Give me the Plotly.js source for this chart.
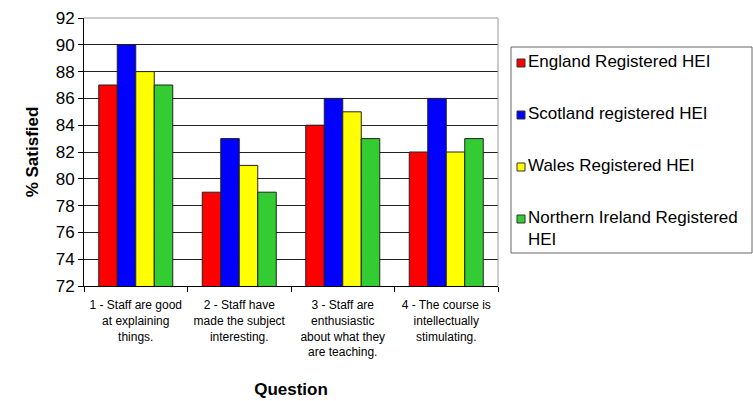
<!DOCTYPE html>
<html><head><meta charset="utf-8">
<script src="https://cdn.plot.ly/plotly-3.0.1.min.js"></script>
<style>html,body{margin:0;padding:0;background:#fff;}#chart{width:753px;height:401px;}</style>
</head><body><div id="chart"></div>
<script>
const questions = [
  "1 - Staff are good<br>at explaining<br>things.",
  "2 - Staff have<br>made the subject<br>interesting.",
  "3 - Staff are<br>enthusiastic<br>about what they<br>are teaching.",
  "4 - The course is<br>intellectually<br>stimulating."
];
const seriesNames = ["England Registered HEI", "Scotland registered HEI", "Wales Registered HEI", "Northern Ireland Registered<br>HEI"];
const england = [87, 79, 84, 82];
const scotland = [90, 83, 86, 86];
const wales = [88, 81, 85, 82];
const northernIreland = [87, 79, 83, 83];
const yTicks = [72, 74, 76, 78, 80, 82, 84, 86, 88, 90, 92];
const colors = ["#FF0000", "#0000FF", "#FFFF00", "#33CC33"];
const allValues = [england, scotland, wales, northernIreland];

const W = 753, H = 401, ML = 84, MR = 255, MT = 18, MB = 115;
const PW = W - ML - MR, PH = H - MT - MB;
const px = x => (x - ML) / PW;
const py = y => (H - MB - y) / PH;

const traces = allValues.map((vals, i) => ({
  type: "bar",
  x: questions,
  y: vals,
  name: seriesNames[i].replace("<br>", " "),
  marker: {color: colors[i], line: {color: "#222", width: 1}},
  hoverinfo: "y",
  showlegend: false
}));

// manual legend (Excel style)
const shapes = [
  {type: "line", xref: "paper", yref: "paper", x0: 1, x1: 1, y0: 0, y1: 1, line: {color: "#999", width: 1}},
  {type: "line", xref: "paper", yref: "paper", x0: 0, x1: 1, y0: 1, y1: 1, line: {color: "#999", width: 1}},
  {type: "rect", xref: "paper", yref: "paper", x0: px(511), x1: px(752), y0: py(47), y1: py(253),
   line: {color: "#666", width: 1}, fillcolor: "rgba(0,0,0,0)"}
];
const annotations = [];
seriesNames.forEach((nm, i) => {
  const cy = 63 + i * 52;
  shapes.push({type: "rect", xref: "paper", yref: "paper", x0: px(517), x1: px(525), y0: py(cy - 4), y1: py(cy + 4),
    line: {color: "#333", width: 1}, fillcolor: colors[i]});
  annotations.push({xref: "paper", yref: "paper", x: px(527), y: py(cy - 12), xanchor: "left", yanchor: "top",
    text: nm, showarrow: false, align: "left", font: {size: 17, color: "#000"}, borderpad: 0});
});

const layout = {
  width: W, height: H,
  margin: {l: ML, r: MR, t: MT, b: MB, autoexpand: false},
  paper_bgcolor: "#fff", plot_bgcolor: "#fff",
  font: {family: "Arial, Liberation Sans, sans-serif", color: "#000"},
  barmode: "group",
  bargap: 0.285,
  bargroupgap: 0,
  showlegend: false,
  xaxis: {
    type: "category",
    tickson: "boundaries",
    tickangle: 0,
    ticks: "outside", ticklen: 5, tickcolor: "#000",
    ticklabelstandoff: 8,
    showline: true, linecolor: "#000", linewidth: 1,
    tickfont: {size: 12, color: "#000"},
    title: {text: "Question", font: {size: 17, color: "#000", weight: "bold"}, standoff: 24}
  },
  yaxis: {
    range: [72, 92],
    tickvals: yTicks,
    ticks: "outside", ticklen: 5, tickcolor: "#000",
    showline: true, linecolor: "#000", linewidth: 1,
    showgrid: true, gridcolor: "#222", gridwidth: 1,
    zeroline: false,
    tickfont: {size: 17, color: "#000"},
    title: {text: "% Satisfied", font: {size: 17, color: "#000", weight: "bold"}, standoff: 12}
  },
  shapes: shapes,
  annotations: annotations
};
Plotly.newPlot("chart", traces, layout, {staticPlot: true, displayModeBar: false});
</script>
</body></html>
